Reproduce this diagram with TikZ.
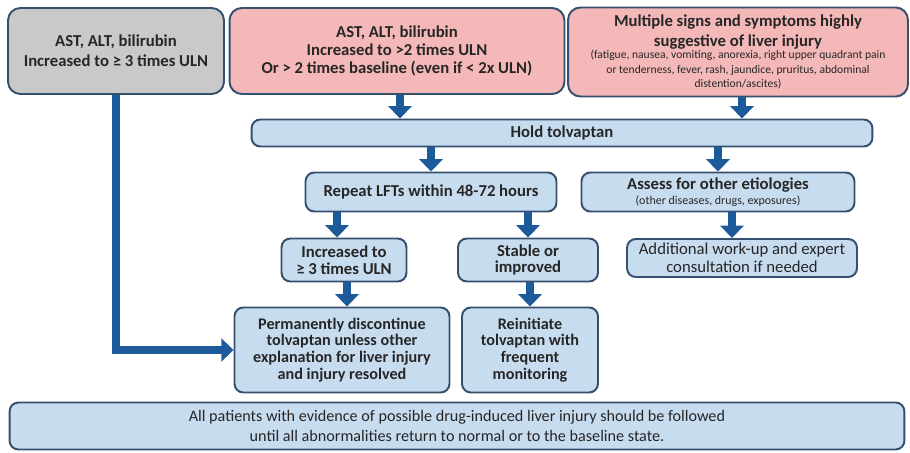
\documentclass[tikz,border=0pt]{standalone}
\usepackage{fontspec}
\setmainfont{Carlito}
\usetikzlibrary{arrows.meta}

\definecolor{boxline}{HTML}{34506E}
\definecolor{greyfill}{HTML}{C9C9C9}
\definecolor{pinkfill}{HTML}{F5B8B8}
\definecolor{bluefill}{HTML}{C8DCF0}
\definecolor{arrowblue}{HTML}{1C5A9A}

\begin{document}
\begin{tikzpicture}[
    x=0.02cm, y=-0.02cm,
    every node/.style={draw=boxline, line width=1.1pt, align=center, rounded corners=7pt, inner sep=2pt, text=black!85},
    greybox/.style={fill=greyfill, font=\bfseries\fontsize{9.5}{11.3}\selectfont},
    redbox/.style={fill=pinkfill, font=\bfseries\fontsize{9.5}{10.3}\selectfont},
    bluebox/.style={fill=bluefill, font=\bfseries\fontsize{9.5}{9.6}\selectfont, rounded corners=5pt},
    plainbox/.style={fill=bluefill, font=\fontsize{9.5}{10}\selectfont, rounded corners=5pt},
    blk/.style={draw=arrowblue, line width=4.6pt, -{Triangle[width=13pt,length=7pt]}}
]
    \useasboundingbox (0,0) rectangle (910,453);

    \node (grey) [greybox, minimum width=4.32cm, minimum height=1.72cm] at (116,51)
        {AST, ALT, bilirubin\\Increased to ≥ 3 times ULN};
    \node (redA) [redbox, minimum width=6.70cm, minimum height=1.72cm] at (397,51)
        {AST, ALT, bilirubin\\Increased to >2 times ULN\\Or > 2 times baseline (even if < 2x ULN)};
    \node (redB) [redbox, font=\bfseries\fontsize{9.5}{11.3}\selectfont, minimum width=6.80cm, minimum height=1.78cm, inner sep=1pt] at (738,52)
        {Multiple signs and symptoms highly\\suggestive of liver injury\\[-4.2pt]
         \mdseries\fontsize{6.6}{7}\selectfont (fatigue, nausea, vomiting, anorexia, right upper quadrant pain\\[-3.2pt]
         \mdseries\fontsize{6.6}{7}\selectfont or tenderness, fever, rash, jaundice, pruritus, abdominal\\[-3.2pt]
         \mdseries\fontsize{6.6}{7}\selectfont distention/ascites)};

    \node (hold) [bluebox, minimum width=12.42cm, minimum height=0.54cm] at (562,133) {Hold tolvaptan};

    \node (repeat) [bluebox, minimum width=5.02cm, minimum height=0.78cm] at (431,192)
        {Repeat LFTs within 48-72 hours};
    \node (assess) [bluebox, minimum width=5.46cm, minimum height=0.78cm] at (718,192)
        {Assess for other etiologies\\[-1pt]\mdseries\fontsize{6.8}{7}\selectfont (other diseases, drugs, exposures)};

    \node (incr) [bluebox, minimum width=2.50cm, minimum height=0.86cm] at (344,260)
        {Increased to\\≥ 3 times ULN};
    \node (stable) [bluebox, minimum width=2.80cm, minimum height=0.86cm] at (528,260)
        {Stable or\\improved};
    \node (addl) [plainbox, minimum width=4.60cm, minimum height=0.76cm] at (742,258)
        {Additional work-up and expert\\consultation if needed};

    \node (perm) [bluebox, font=\bfseries\fontsize{9.2}{9.6}\selectfont, minimum width=4.30cm, minimum height=1.70cm] at (342,350)
        {Permanently discontinue\\tolvaptan unless other\\explanation for liver injury\\and injury resolved};
    \node (reinit) [bluebox, font=\bfseries\fontsize{9.2}{9.6}\selectfont, minimum width=2.72cm, minimum height=1.70cm] at (530,350)
        {Reinitiate\\tolvaptan with\\frequent\\monitoring};

    \node (note) [plainbox, font=\fontsize{9.2}{11.3}\selectfont, minimum width=17.90cm, minimum height=0.94cm] at (457,426)
        {All patients with evidence of possible drug-induced liver injury should be followed\\until all abnormalities return to normal or to the baseline state.};

    \draw [blk] (redA.south -| 400,0) -- (hold.north -| 400,0);
    \draw [blk] (redB.south -| 742,0) -- (hold.north -| 742,0);
    \draw [blk] (hold.south -| repeat.north) -- (repeat.north);
    \draw [blk] (hold.south -| assess.north) -- (assess.north);
    \draw [blk] (repeat.south -| 337,0) -- (incr.north -| 337,0);
    \draw [blk] (repeat.south -| stable.north) -- (stable.north);
    \draw [blk] (incr.south -| 347,0) -- (perm.north -| 347,0);
    \draw [blk] (stable.south -| reinit.north) -- (reinit.north);
    \draw [blk] (assess.south -| 732,0) -- (addl.north -| 732,0);
    \draw [blk] (grey.south) |- (perm.west);
\end{tikzpicture}
\end{document}
